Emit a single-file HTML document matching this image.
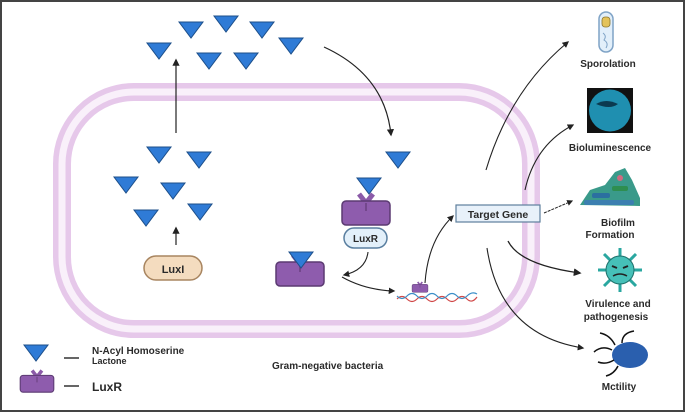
<!DOCTYPE html>
<html><head><style>
html,body{margin:0;padding:0;background:#fff}
svg{display:block}
text{font-family:"Liberation Sans",sans-serif;font-weight:bold;fill:#2a2a2a}
</style></head><body>
<svg width="685" height="412" viewBox="0 0 685 412" xmlns="http://www.w3.org/2000/svg">
<defs>
<marker id="ah" viewBox="0 0 10 10" refX="8" refY="5" markerWidth="6" markerHeight="6" orient="auto"><path d="M0,0 L10,5 L0,10 z" fill="#222"/></marker>
<g id="tri"><path d="M-12,0 L12,0 L0,16 z" fill="#2f7bd6" stroke="#1d4f8a" stroke-width="1"/></g>
<g id="rec"><path d="M-7,-15 L0,-6 L7,-15" stroke="#8b5aa8" stroke-width="5" fill="none"/><rect x="-24" y="-8" width="48" height="24" rx="4" fill="#8e5cad" stroke="#5b3a72" stroke-width="1.5"/><line x1="0" y1="-6" x2="0" y2="2" stroke="#6a4080" stroke-width="1.5"/></g>
</defs>
<rect x="1" y="1" width="683" height="410" fill="#fff" stroke="#444" stroke-width="2"/>
<rect x="62" y="92" width="469" height="237" rx="72" fill="none" stroke="#e6c8ea" stroke-width="18"/>
<rect x="62" y="92" width="469" height="237" rx="72" fill="none" stroke="#f9f0fa" stroke-width="7"/>
<use href="#tri" x="159" y="43"/><use href="#tri" x="191" y="22"/><use href="#tri" x="226" y="16"/><use href="#tri" x="262" y="22"/><use href="#tri" x="291" y="38"/><use href="#tri" x="209" y="53"/><use href="#tri" x="246" y="53"/>
<use href="#tri" x="159" y="147"/><use href="#tri" x="199" y="152"/><use href="#tri" x="126" y="177"/><use href="#tri" x="173" y="183"/><use href="#tri" x="146" y="210"/><use href="#tri" x="200" y="204"/>
<use href="#tri" x="398" y="152"/><use href="#tri" x="369" y="178"/>
<line x1="176" y1="133" x2="176" y2="60" stroke="#222" stroke-width="1.2" marker-end="url(#ah)"/>
<path d="M324,47 Q385,75 391,135" stroke="#222" stroke-width="1.2" fill="none" marker-end="url(#ah)"/>
<line x1="176" y1="245" x2="176" y2="228" stroke="#222" stroke-width="1.2" marker-end="url(#ah)"/>
<rect x="144" y="256" width="58" height="24" rx="12" fill="#f4dcbf" stroke="#a88560" stroke-width="1.5"/>
<text x="173" y="273" font-size="11" text-anchor="middle">LuxI</text>
<use href="#rec" x="366" y="209"/>
<rect x="344" y="228" width="43" height="20" rx="10" fill="#e3f0fa" stroke="#5a7fa0" stroke-width="1.5"/>
<text x="365.5" y="242" font-size="10" text-anchor="middle">LuxR</text>
<use href="#rec" x="300" y="270"/>
<use href="#tri" x="301" y="252"/>
<path d="M368,252 Q366,270 344,275" stroke="#222" stroke-width="1.1" fill="none" marker-end="url(#ah)"/>
<path d="M342,277 Q365,290 394,291" stroke="#222" stroke-width="1.1" fill="none" marker-end="url(#ah)"/>
<path d="M397,299 q5,-5 10,0 t10,0 t10,0 t10,0 t10,0 t10,0 t10,0 t10,-2" stroke="#d04848" stroke-width="1.2" fill="none"/>
<path d="M397,296 q5,5 10,0 t10,0 t10,0 t10,0 t10,0 t10,0 t10,0 t10,-2" stroke="#3b8fc8" stroke-width="1.2" fill="none"/>
<g transform="translate(420,287) scale(0.33)"><use href="#rec"/></g>
<path d="M425,283 Q428,240 453,216" stroke="#222" stroke-width="1.1" fill="none" marker-end="url(#ah)"/>
<rect x="456" y="205" width="84" height="17" fill="#e8f1fa" stroke="#5e7f9c" stroke-width="1.2"/>
<text x="498" y="218" font-size="10.5" text-anchor="middle">Target Gene</text>
<path d="M486,170 Q510,90 568,42" stroke="#222" stroke-width="1.1" fill="none" marker-end="url(#ah)"/>
<path d="M525,190 Q535,145 573,125" stroke="#222" stroke-width="1.1" fill="none" marker-end="url(#ah)"/>
<path d="M544,213 L572,201" stroke="#222" stroke-width="1" fill="none" stroke-dasharray="3,1" marker-end="url(#ah)"/>
<path d="M508,241 Q520,265 580,273" stroke="#222" stroke-width="1.3" fill="none" marker-end="url(#ah)"/>
<path d="M487,248 Q500,335 583,348" stroke="#222" stroke-width="1.1" fill="none" marker-end="url(#ah)"/>
<rect x="599" y="12" width="14" height="40" rx="7" fill="#e2effa" stroke="#7fa3c6" stroke-width="1.5"/>
<rect x="602" y="17" width="8" height="10" rx="3" fill="#e4c35a" stroke="#8a7530" stroke-width="0.8"/>
<path d="M603,33 q4,3 1,7 q5,3 2,8" stroke="#7fa3c6" fill="none"/>
<text x="608" y="67" font-size="10" text-anchor="middle">Sporolation</text>
<rect x="587" y="88" width="46" height="45" fill="#111"/>
<circle cx="610" cy="110.5" r="21" fill="#1f8fb0"/>
<path d="M596,104 q10,-6 22,0 q-8,6 -22,0" fill="#0b3a50"/>
<text x="610" y="151" font-size="10" text-anchor="middle">Bioluminescence</text>
<path d="M580,205 L590,190 L605,185 L615,172 L625,168 L632,180 L640,198 L640,206 Z" fill="#3a9a8a"/>
<rect x="592" y="193" width="18" height="5" rx="2" fill="#2b6fa0"/><rect x="612" y="186" width="16" height="5" rx="2" fill="#2e8e50"/><circle cx="620" cy="178" r="3" fill="#d06a80"/><rect x="584" y="200" width="50" height="5" rx="2" fill="#3c7fb0"/>
<text x="618" y="226" font-size="10" text-anchor="middle">Biofilm</text>
<text x="610" y="238" font-size="10" text-anchor="middle">Formation</text>
<g stroke="#2aa7a0" stroke-width="3">
<line x1="620" y1="248" x2="620" y2="292"/><line x1="598" y1="270" x2="642" y2="270"/><line x1="604" y1="254" x2="636" y2="286"/><line x1="636" y1="254" x2="604" y2="286"/></g>
<circle cx="620" cy="270" r="14" fill="#46c0b8" stroke="#1d6f6a"/>
<path d="M612,266 l5,2 M628,266 l-5,2" stroke="#222" stroke-width="2"/>
<path d="M613,276 q7,-4 14,0" stroke="#222" fill="none" stroke-width="1.5"/>
<text x="618" y="307" font-size="10" text-anchor="middle">Virulence and</text>
<text x="616" y="320" font-size="10" text-anchor="middle">pathogenesis</text>
<ellipse cx="630" cy="355" rx="18" ry="13" fill="#2a5fae"/>
<g stroke="#111" stroke-width="1.5" fill="none"><path d="M612,350 q-10,-5 -18,2"/><path d="M615,345 q-5,-10 -15,-12"/><path d="M622,343 q0,-10 12,-12"/><path d="M614,360 q-8,5 -16,2"/><path d="M618,366 q-4,8 -12,10"/></g>
<text x="619" y="390" font-size="10" text-anchor="middle">Mctility</text>
<use href="#tri" x="36" y="345"/>
<line x1="64" y1="358" x2="79" y2="358" stroke="#333" stroke-width="1.5"/>
<text x="92" y="354" font-size="10">N-Acyl Homoserine</text>
<text x="92" y="364" font-size="9">Lactone</text>
<g transform="translate(37,381) scale(0.7)"><use href="#rec"/></g>
<line x1="64" y1="386" x2="79" y2="386" stroke="#333" stroke-width="1.5"/>
<text x="92" y="391" font-size="12">LuxR</text>
<text x="272" y="369" font-size="10">Gram-negative bacteria</text>
</svg>
</body></html>
